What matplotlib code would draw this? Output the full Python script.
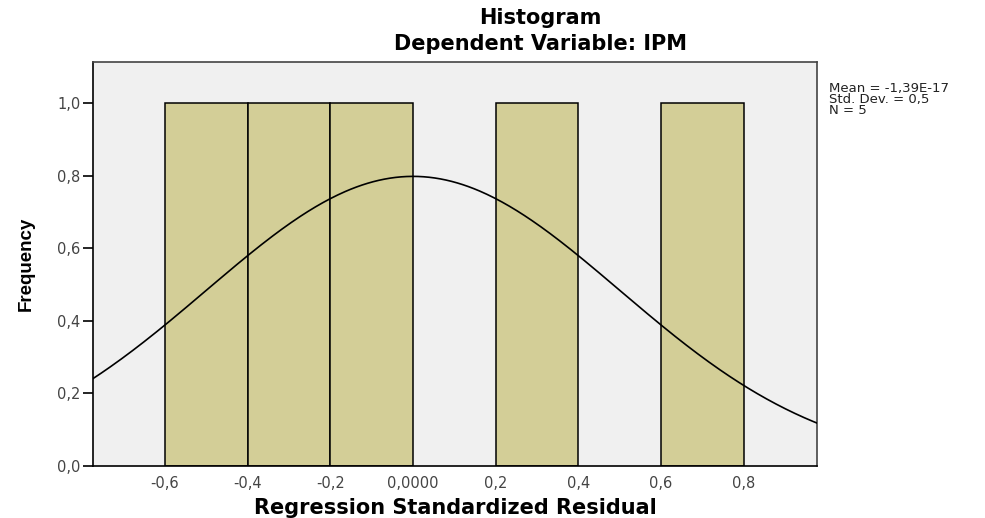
import numpy as np
import matplotlib as mpl
mpl.use('Agg')
import matplotlib.pyplot as plt

mpl.rc('font', family=['DejaVu Sans'])

# histogram bins (left edges) and counts
bin_left = [-0.6, -0.4, -0.2, 0.2, 0.6]
counts = [1, 1, 1, 1, 1]
bin_width = 0.2

# summary stats shown on the chart
mean = -1.39e-17
std = 0.5
n = 5

xticks = [-0.6, -0.4, -0.2, 0.0, 0.2, 0.4, 0.6, 0.8]
xticklabels = ['-0,6', '-0,4', '-0,2', '0,0000', '0,2', '0,4', '0,6', '0,8']
yticks = [0.0, 0.2, 0.4, 0.6, 0.8, 1.0]
yticklabels = ['0,0', '0,2', '0,4', '0,6', '0,8', '1,0']

fig = plt.figure(figsize=(9.85, 5.18), dpi=100)
ax = fig.add_axes([0.0944, 0.1004, 0.735, 0.7799])
ax.set_facecolor('#f0f0f0')

ax.bar(bin_left, counts, width=bin_width, align='edge', color='#d3ce97',
       edgecolor='black', linewidth=1.1, zorder=2)

# normal curve scaled to the histogram
xs = np.linspace(-0.8, 1.0, 400)
ys = n * bin_width / (std * np.sqrt(2 * np.pi)) * np.exp(-0.5 * ((xs - mean) / std) ** 2)
ax.plot(xs, ys, color='black', linewidth=1.2, zorder=3)

ax.set_xlim(-0.774, 0.977)
ax.set_ylim(0, 1.113)
ax.set_xticks(xticks)
ax.set_xticklabels(xticklabels)
ax.set_yticks(yticks)
ax.set_yticklabels(yticklabels)
ax.tick_params(axis='x', length=0, pad=7, labelsize=10.5, labelcolor='#444444')
ax.tick_params(axis='y', length=7, width=1.2, pad=2, labelsize=10.5, labelcolor='#444444')
for s in ax.spines.values():
    s.set_linewidth(1.2)
    s.set_color('#444444')
ax.spines['left'].set_color('black')
ax.spines['bottom'].set_color('black')

ax.set_xlabel('Regression Standardized Residual', fontsize=15, fontweight='bold', labelpad=5)
ax.set_ylabel('Frequency', fontsize=13.5, fontweight='bold',
              family=['Liberation Sans Narrow', 'Liberation Sans'])
ax.yaxis.set_label_coords(-0.080, 0.5)

fig.text(0.549, 0.9546, 'Histogram', ha='center', va='baseline', fontsize=15, fontweight='bold')
fig.text(0.549, 0.9035, 'Dependent Variable: IPM', ha='center', va='baseline',
         fontsize=15, fontweight='bold')

fig.text(0.842, 0.807, 'Mean = -1,39E-17\nStd. Dev. = 0,5\nN = 5', ha='left', va='center',
         fontsize=9.5, linespacing=0.8, color='#222222')

fig.savefig('out.png', dpi=100)
